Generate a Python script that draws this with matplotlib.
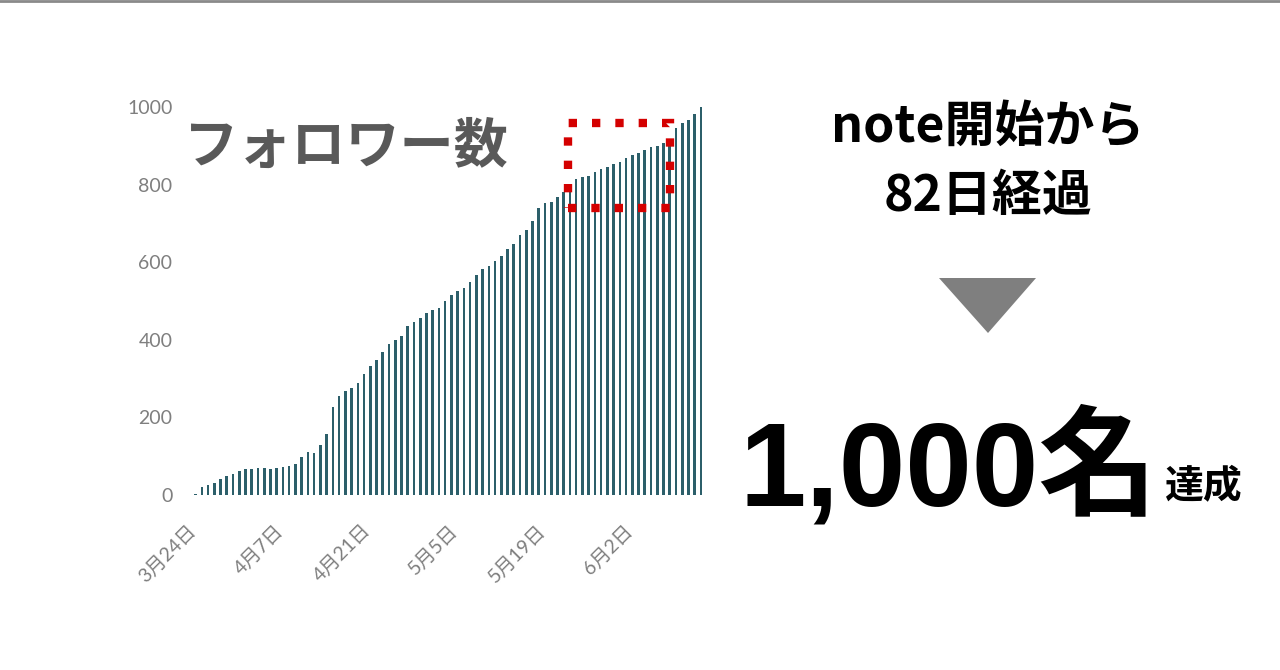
import numpy as np
import matplotlib.pyplot as plt
from matplotlib.patches import Rectangle, Polygon
from matplotlib.lines import Line2D
from matplotlib.transforms import ScaledTranslation

# followers per day, 3/24 .. 6/13 (82 days)
followers = [2, 20, 25, 32, 40, 49, 55, 62, 66, 67,
             69, 70, 68, 70, 73, 76, 80, 97, 111, 109,
             128, 156, 226, 256, 268, 277, 288, 312, 333, 347,
             369, 390, 399, 409, 436, 445, 457, 469, 476, 481,
             500, 515, 525, 533, 548, 566, 582, 590, 603, 615,
             633, 646, 670, 683, 706, 739, 753, 756, 769, 782,
             793, 814, 820, 822, 833, 840, 845, 853, 859, 868,
             876, 882, 889, 896, 900, 908, 915, 945, 958, 966,
             983, 1000]
tick_days = [0, 14, 28, 42, 56, 70]
tick_labels = ["3月24日", "4月7日", "4月21日", "5月5日", "5月19日", "6月2日"]
y_ticks = [0, 200, 400, 600, 800, 1000]
# highlighted region (days, followers)
box_days = (59.7, 76.0)
box_vals = (740, 959)

JP = ['Noto Sans CJK JP', 'DejaVu Sans']
LAB = ['Lato', 'Noto Sans CJK JP', 'DejaVu Sans']
BIG = ['Liberation Sans', 'Noto Sans CJK JP']

fig = plt.figure(figsize=(12.8, 6.7), dpi=100)
fig.patch.set_facecolor('white')
fig.add_artist(Line2D([0, 1], [0.9985, 0.9985], transform=fig.transFigure,
                      color='#8a8a8a', lw=2))

ax = fig.add_axes([0.1455, 0.2612, 0.407, 0.579])
x = np.arange(len(followers))
ax.bar(x, followers, width=0.42, color='#2c5f6a')
ax.set_xlim(-1.5, 82)
ax.set_ylim(0, 1000)
for s in ax.spines.values():
    s.set_visible(False)
ax.tick_params(length=0, colors='#7f7f7f')
ax.set_yticks(y_ticks)
ax.set_yticklabels([str(v) for v in y_ticks], family=LAB, fontsize=14,
                   color='#7f7f7f')
ax.tick_params(axis='y', pad=10)
ax.set_xticks(tick_days)
ax.set_xticklabels(tick_labels, family=LAB, fontsize=14, color='#7f7f7f',
                   rotation=45, ha='right', va='top', rotation_mode='anchor')
ax.tick_params(axis='x', pad=19)
shift = ScaledTranslation(-6 / 72, 0, fig.dpi_scale_trans)
for lbl in ax.get_xticklabels():
    lbl.set_transform(lbl.get_transform() + shift)

ax.add_patch(Rectangle((box_days[0], box_vals[0]), box_days[1] - box_days[0],
                       box_vals[1] - box_vals[0], fill=False,
                       edgecolor='#d40000', lw=6, linestyle=(0, (1, 1.8)),
                       clip_on=False, zorder=5))

fig.text(0.144, 0.78, "フォロワー数", family=JP, fontsize=39, fontweight='bold',
         color='#595959', va='center', ha='left')

fig.text(0.772, 0.809, "note開始から", family=JP, fontsize=36, fontweight='bold',
         color='black', ha='center', va='center')
fig.text(0.772, 0.706, "82日経過", family=JP, fontsize=36, fontweight='bold',
         color='black', ha='center', va='center')

# down arrow
fig.add_artist(Polygon([[939 / 1280, 1 - 278 / 670], [1036 / 1280, 1 - 278 / 670],
                        [988 / 1280, 1 - 333 / 670]], closed=True,
                       transform=fig.transFigure, facecolor='#7f7f7f',
                       edgecolor='none'))

fig.text(0.578, 0.246, "1,000名", family=BIG, fontsize=86, fontweight='bold',
         color='black', ha='left', va='baseline')
fig.text(0.910, 0.2746, "達成", family=JP, fontsize=28, fontweight='bold',
         color='black', ha='left', va='center')

fig.savefig('out.png', dpi=100, facecolor='white')
